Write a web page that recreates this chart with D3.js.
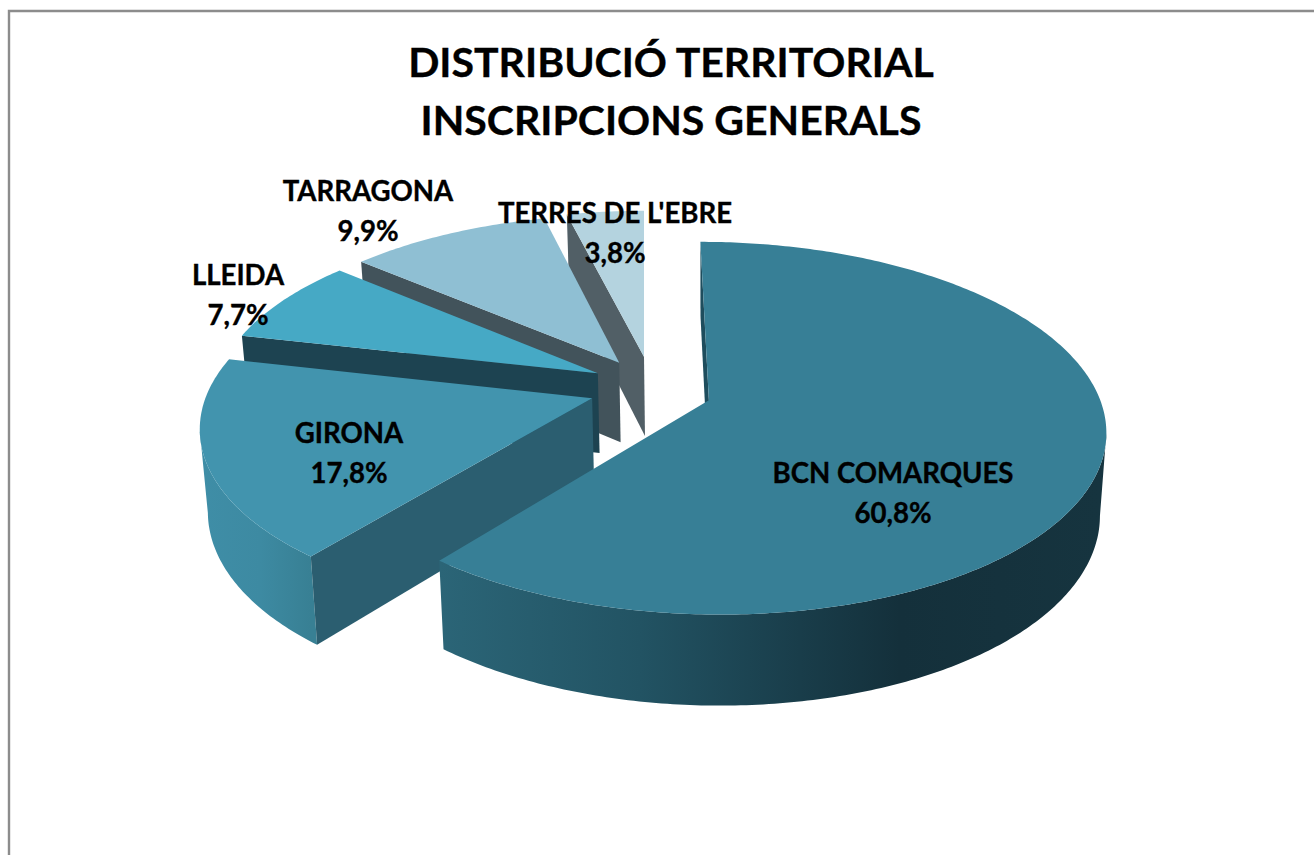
<!DOCTYPE html>
<html><head><meta charset="utf-8">
<script src="https://cdn.jsdelivr.net/npm/d3@7"></script>
<style>html,body{margin:0;padding:0;background:#fff;overflow:hidden}svg{display:block}text{font-family:Lato,"Open Sans",sans-serif;font-weight:700;fill:#000;stroke:#000;stroke-width:.35px}</style>
</head><body><svg id="c" width="1314" height="855"></svg>
<script>
const titleLines = ["DISTRIBUCIÓ TERRITORIAL", "INSCRIPCIONS GENERALS"];
const categories = ["BCN COMARQUES", "GIRONA", "LLEIDA", "TARRAGONA", "TERRES DE L'EBRE"];
const values = [60.8, 17.8, 7.7, 9.9, 3.8];
const valueLabels = ["60,8%", "17,8%", "7,7%", "9,9%", "3,8%"];

// styles
const topColors = ["#377f96", "#4294ae", "#46a9c5", "#8fbfd3", "#b4d3df"];
const faceColors = ["#1e4d5d", "#2b5e70", "#1d4351", "#42535b", "#515f66"];
const sideStops = [
  [[440, "#2b6577"], [640, "#225363"], [800, "#193d4a"], [900, "#14303b"], [1100, "#16343f"]],
  [[195, "#3f8ea7"], [260, "#3d8aa2"], [310, "#388094"]],
  [[240, "#1d4351"], [340, "#1d4351"]],
  [[360, "#42535b"], [540, "#42535b"]],
  [[560, "#515f66"], [644, "#515f66"]]
];
// layout: exploded offset and radius of each slice on the pie plane, label anchors
const offsets = [[.165, .056], [-.132, .0455], [-.12, -.095], [-.065, -.155], [0, -.19]];
const radii = [.995, .985, .985, .985, .98];
const labelPos = [[893, 483], [349, 443], [238, 285], [368, 201], [615, 223]];
const cx = 644, cy = 390, rx = 390, ry = 180, persp = .15;
const labelGap = 40;

const proj = (x, y) => { const w = 1 - persp * y; return [cx + rx * x / w, cy + ry * y / w]; };
const lower = p => [p[0] + (705 - p[0]) * .016, p[1] + 80 + (p[1] - 375) * .046];

const pie = d3.pie().sort(null).value(d => d).startAngle(0).endAngle(2 * Math.PI);
const arcs = pie(values);
const line = d3.line();
const svg = d3.select("#c");
const defs = svg.append("defs");

svg.append("path").attr("d", "M9 855V11H1314").attr("fill", "none").attr("stroke", "#8c8c8c").attr("stroke-width", 2.4);

const order = d3.range(values.length).reverse();
order.forEach(i => {
  const a = arcs[i], [ox, oy] = offsets[i], r = radii[i];
  const n = Math.max(8, Math.round((a.endAngle - a.startAngle) * 80));
  const thetas = d3.range(n + 1).map(k => a.startAngle + (a.endAngle - a.startAngle) * k / n);
  const rim = thetas.map(t => proj(ox + r * Math.sin(t), oy - r * Math.cos(t)));
  const apex = proj(ox, oy);
  const gid = "side" + i;
  const g = defs.append("linearGradient").attr("id", gid).attr("gradientUnits", "userSpaceOnUse")
    .attr("x1", sideStops[i][0][0]).attr("x2", sideStops[i][sideStops[i].length - 1][0]).attr("y1", 0).attr("y2", 0);
  const s0 = sideStops[i][0][0], s1 = sideStops[i][sideStops[i].length - 1][0];
  sideStops[i].forEach(([x, c]) => g.append("stop").attr("offset", (x - s0) / (s1 - s0)).attr("stop-color", c));
  const grp = svg.append("g").attr("class", "slice").datum(categories[i]);
  // outer wall: only the part of the rim that faces the viewer
  const front = rim.filter((p, k) => {
    const q = rim[Math.min(k + 1, n)], o = rim[Math.max(k - 1, 0)];
    return q[0] - o[0] < 0;
  });
  if (front.length > 1)
    grp.append("path").attr("d", line(front.concat(front.map(lower).reverse())) + "Z").attr("fill", `url(#${gid})`);
  // radial wall at start angle
  grp.append("path").attr("d", line([apex, rim[0], lower(rim[0]), lower(apex)]) + "Z").attr("fill", faceColors[i]);
  // top
  grp.append("path").attr("d", line([apex].concat(rim)) + "Z").attr("fill", topColors[i]);
});

svg.append("g").selectAll("text").data(titleLines).join("text")
  .attr("x", 671).attr("y", (d, i) => 77 + i * 58).attr("text-anchor", "middle").attr("font-size", 41).text(d => d);

const lab = svg.append("g").selectAll("g").data(categories).join("g")
  .attr("transform", (d, i) => `translate(${labelPos[i][0]},${labelPos[i][1]})`).attr("text-anchor", "middle").attr("font-size", 27.6);
lab.append("text").text(d => d);
lab.append("text").attr("y", labelGap).text((d, i) => valueLabels[i]);
</script></body></html>
